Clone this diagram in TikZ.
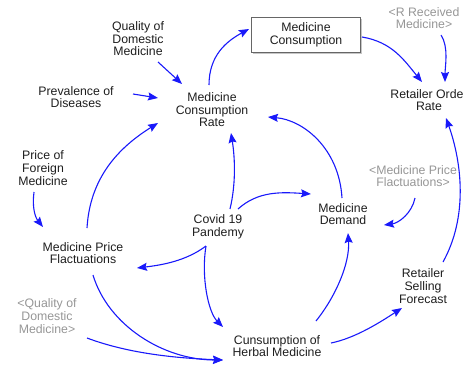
\documentclass[tikz,border=0pt]{standalone}
\usepackage{fontspec}
\setmainfont{Liberation Sans}
\usetikzlibrary{arrows.meta,calc,shadows}
\definecolor{arrblue}{RGB}{25,25,250}
\definecolor{txt}{RGB}{30,30,30}
\definecolor{shadowtxt}{RGB}{150,150,150}
\tikzset{
  lbl/.style={align=center,text=txt,font=\fontsize{12.3}{12.6}\selectfont,inner sep=0pt},
  glbl/.style={lbl,text=shadowtxt},
  stockbox/.style={lbl,draw=gray!80!black,line width=0.9pt,fill=white,minimum width=109pt,minimum height=35pt,
    drop shadow={shadow xshift=1.8pt,shadow yshift=-1.8pt,fill=gray!45,opacity=1}},
  arr/.style={draw=arrblue,line width=1.1pt,-{Stealth[length=10pt,width=8pt,inset=1.5pt]}}
}
\begin{document}
\begin{tikzpicture}[x=1pt,y=-1pt]
\useasboundingbox (0,0) rectangle (463,370);
\clip (0,0) rectangle (463,370);
% nodes
\node[lbl] (qdm) at (138,39) {Quality of\\Domestic\\Medicine};
\node[lbl] (prev) at (76,97) {Prevalence of\\Diseases};
\node[lbl] (mcr) at (212,110) {Medicine\\Consumption\\Rate};
\node[stockbox] (mc) at (306,35) {Medicine\\Consumption};
\node[glbl] (rrm) at (424,18) {<R Received\\Medicine>};
\node[lbl] (ror) at (429,100) {Retailer Order\\Rate};
\node[lbl] (pfm) at (43,168) {Price of\\Foreign\\Medicine};
\node[glbl] (gmpf) at (413,176) {<Medicine Price\\Flactuations>};
\node[lbl] (cov) at (218,227) {Covid 19\\Pandemy};
\node[lbl] (md) at (343,214) {Medicine\\Demand};
\node[lbl] (mpf) at (83,253) {Medicine Price\\Flactuations};
\node[glbl] (gqdm) at (47,316) {<Quality of\\Domestic\\Medicine>};
\node[lbl] (rsf) at (423,286) {Retailer\\Selling\\Forecast};
\node[lbl] (herb) at (277,346) {Cunsumption of\\Herbal Medicine};
% connectors
\draw[arr] ($(qdm)+(20,23)$) -- ($(mcr)+(-30,-26)$);
\draw[arr] ($(prev)+(57,-3)$) -- ($(mcr)+(-54,-12)$);
\draw[arr] ($(mpf)+(4,-25)$) .. controls +(3,-50) and +(-40,25) .. ($(mcr)+(-54,13)$);
\draw[arr] ($(mcr)+(-3,-25)$) .. controls +(0,-30) and +(-22,12) .. ($(mc)+(-57,-6)$);
\draw[arr] ($(mc)+(56,2)$) .. controls +(30,5) and +(-18,-22) .. ($(ror)+(-7,-18)$);
\draw[arr] ($(rrm)+(17,17)$) .. controls +(8,12) and +(0,-15) .. ($(ror)+(16,-18)$);
\draw[arr] ($(rsf)+(20,-24)$) .. controls +(25,-45) and +(16,45) .. ($(ror)+(17,18)$);
\draw[arr] ($(md)+(-1,-16)$) .. controls +(-3,-50) and +(35,3) .. ($(mcr)+(56,7)$);
\draw[arr] ($(cov)+(12,-18)$) .. controls +(6,-25) and +(4,25) .. ($(mcr)+(19,23)$);
\draw[arr] ($(cov)+(20,-18)$) .. controls +(20,-18) and +(-30,-2) .. ($(md)+(-32,-20)$);
\draw[arr] ($(gmpf)+(2,22)$) .. controls +(-3,15) and +(15,-2) .. ($(md)+(41,11)$);
\draw[arr] ($(cov)+(-12,19)$) .. controls +(-20,15) and +(25,-3) .. ($(mpf)+(54,15)$);
\draw[arr] ($(cov)+(-12,19)$) .. controls +(-5,30) and +(-15,-15) .. ($(herb)+(-54,-19)$);
\draw[arr] ($(herb)+(39,-25)$) .. controls +(20,-25) and +(2,30) .. ($(md)+(5,19)$);
\draw[arr] ($(herb)+(54,-3)$) .. controls +(25,-5) and +(-20,13) .. ($(rsf)+(-21,22)$);
\draw[arr] ($(mpf)+(10,22)$) .. controls +(15,50) and +(-60,0) .. ($(herb)+(-54,14)$);
\draw[arr] ($(gqdm)+(40,22)$) .. controls +(40,15) and +(-50,-2) .. ($(herb)+(-54,14)$);
\draw[arr] ($(pfm)+(-9,24)$) .. controls +(-2,15) and +(-8,-10) .. ($(mpf)+(-40,-26)$);
\end{tikzpicture}
\end{document}
